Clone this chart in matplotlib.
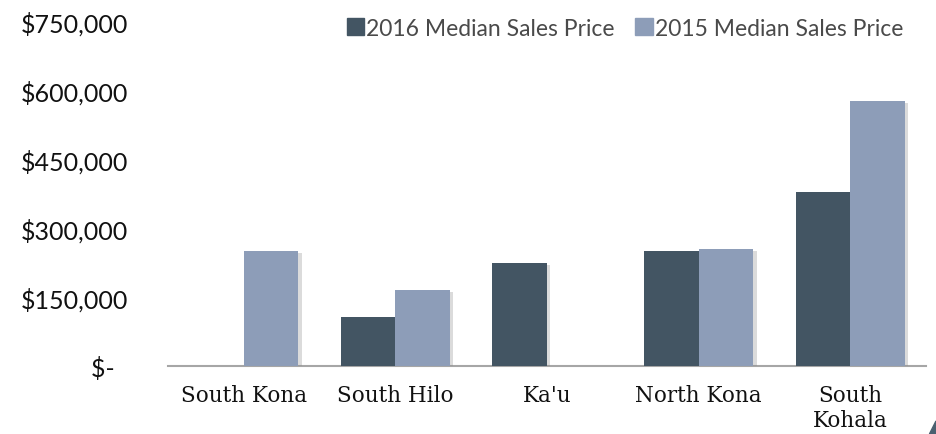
import numpy as np
import matplotlib
matplotlib.use("Agg")
import matplotlib.pyplot as plt
import matplotlib.patheffects as pe
from matplotlib.patches import Patch, Polygon

# data
regions = ["South Kona", "South Hilo", "Ka'u", "North Kona", "South\nKohala"]
price_2016 = [0, 106500, 225000, 250000, 377500]
price_2015 = [250000, 166000, 0, 254000, 576000]
y_ticks = [0, 150000, 300000, 450000, 600000, 750000]
y_labels = ["$-  ", "$150,000", "$300,000", "$450,000", "$600,000", "$750,000"]

DARK = "#435563"
LIGHT = "#8d9db8"

fig = plt.figure(figsize=(9.36, 4.35), dpi=100)
ax = fig.add_axes([168 / 936, 68 / 435, 758 / 936, 345 / 435])

x = np.arange(len(regions))
w = 0.36
shadow = [pe.SimplePatchShadow(offset=(2.5, -1.5), shadow_rgbFace="#8a8a8a", alpha=0.3), pe.Normal()]
b1 = ax.bar(x - w / 2, price_2016, width=w, color=DARK, zorder=3)
b2 = ax.bar(x + w / 2, price_2015, width=w, color=LIGHT, zorder=3)
for r in list(b1) + list(b2):
    if r.get_height() > 0:
        r.set_path_effects(shadow)

ax.set_xlim(-0.5, len(regions) - 0.5)
ax.set_ylim(0, 750000)
ax.set_yticks(y_ticks)
ax.set_yticklabels(y_labels, fontsize=18, family="Lato", color="#111111")
ax.set_xticks(x)
ax.set_xticklabels(regions, fontsize=15.5, family="DejaVu Serif", linespacing=1.15, color="#111111")
ax.tick_params(axis="y", length=0, pad=29)
ax.tick_params(axis="x", length=0, pad=13)
for s in ["top", "right", "left"]:
    ax.spines[s].set_visible(False)
ax.spines["bottom"].set_color("#a6a6a6")
ax.spines["bottom"].set_linewidth(1.5)

handles = [Patch(color=DARK), Patch(color=LIGHT)]
leg = fig.legend(handles, ["2016 Median Sales Price", "2015 Median Sales Price"],
                 loc="center", bbox_to_anchor=(625 / 936, 1 - 29 / 435), ncol=2,
                 frameon=False, handlelength=0.75, handleheight=0.75, handletextpad=0.1,
                 columnspacing=0.9,
                 prop={"family": "Lato", "size": 16.5})
for t in leg.get_texts():
    t.set_color("#4a4a4a")

# small corner mark at bottom right
fig.patches.append(Polygon([[1.0, 0.0], [1.0, 0.03], [0.993, 0.0]], closed=True,
                           transform=fig.transFigure, color="#4a6070"))

fig.savefig("out.png", dpi=100)
